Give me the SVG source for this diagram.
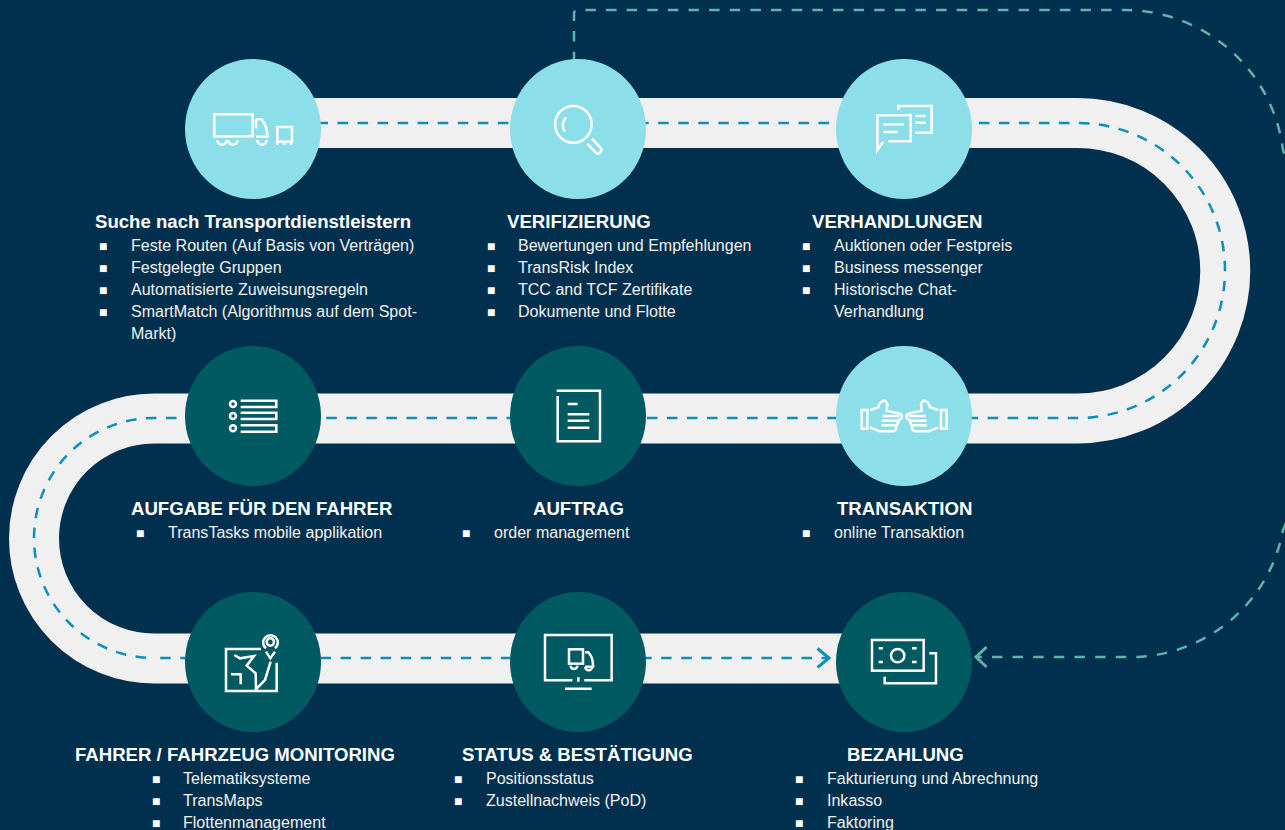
<svg xmlns="http://www.w3.org/2000/svg" width="1285" height="830" viewBox="0 0 1285 830">
<style>
text{font-family:"Liberation Sans",Arial,sans-serif;fill:#f2f2f2}
.h{font-size:18.6px;font-weight:700;fill:#fff}
.b{font-size:16.05px}
.s{font-size:14px;fill:#fff}
.ic{fill:none;stroke:#fff;stroke-width:7.5}
.l{fill:#8cdfe9}
.d{fill:#015a62}
.bl{stroke:#0a8fbd;stroke-width:2.500;stroke-dasharray:10.500 9.540}
</style>
<defs>
<marker id="ab" markerUnits="userSpaceOnUse" markerWidth="30" markerHeight="30" refX="20" refY="15" orient="auto" overflow="visible"><path d="M8.500 5.500L20 15L8.500 24.500" fill="none" stroke="#0a8fbd" stroke-width="3"/></marker>
<marker id="ag" markerUnits="userSpaceOnUse" markerWidth="30" markerHeight="30" refX="20" refY="15" orient="auto" overflow="visible"><path d="M9.500 5L20 15L9.500 25" fill="none" stroke="#5fb3aa" stroke-width="3"/></marker>
</defs>
<rect width="1285" height="830" fill="#01304e"/>
<g id="connectors" fill="none">
<path d="M253 123H1077.500A147.500 147.500 0 0 1 1077.500 418.500H154A120 120 0 0 0 154 658.500H860" stroke="#f0f0f0" stroke-width="50"/>
<path class="bl" d="M253 123H1077.500A147.500 147.500 0 0 1 1077.500 418H154A120 120 0 0 0 154 658" stroke-dashoffset="15.660"/>
<path class="bl" d="M154 658H829" stroke-dashoffset="13.840" marker-end="url(#ab)"/>
<path d="M574 62.200V14Q574 10 578 10H1125A160 160 0 0 1 1283 150L1317 250V450L1283 530A155 155 0 0 1 1128 657H976" stroke="#5fb3aa" stroke-width="2.500" stroke-dasharray="10.500 10.130" marker-end="url(#ag)"/>
</g>
<g id="node-suche"><ellipse class="l" cx="253" cy="129" rx="68" ry="70"/>
<g class="ic" transform="translate(180 60) scale(.3333)"><rect x="103" y="163" width="115" height="66"/><path d="M112 240A14 14 0 0 0 140 240M145 240A14 14 0 0 0 173 240M228 178H245C255 190 262 205 262 230H228M228 178V205M232 240A14 14 0 0 0 260 240"/><rect x="292" y="201" width="44" height="44"/><path d="M292 244V255M313 244V255M334 244V255"/></g>
<text class="h" x="95" y="228">Suche nach Transportdienstleistern</text>
<text class="s" x="99" y="251">■</text><text class="b" x="131" y="251">Feste Routen (Auf Basis von Verträgen)</text>
<text class="s" x="99" y="273">■</text><text class="b" x="131" y="273">Festgelegte Gruppen</text>
<text class="s" x="99" y="295">■</text><text class="b" x="131" y="295">Automatisierte Zuweisungsregeln</text>
<text class="s" x="99" y="317">■</text><text class="b" x="131" y="317">SmartMatch (Algorithmus auf dem Spot-</text>
<text class="b" x="131" y="339">Markt)</text></g>
<g id="node-verifizierung"><ellipse class="l" cx="578" cy="129" rx="68" ry="70"/>
<g class="ic" transform="translate(500 0) scale(.3333)"><circle cx="220" cy="373" r="55"/><path d="M198 352C186 365 186 382 195 395M262 432L288 458A10 10 0 0 0 302 444L276 416"/></g>
<text class="h" x="507" y="228">VERIFIZIERUNG</text>
<text class="s" x="487" y="251">■</text><text class="b" x="518" y="251">Bewertungen und Empfehlungen</text>
<text class="s" x="487" y="273">■</text><text class="b" x="518" y="273">TransRisk Index</text>
<text class="s" x="487" y="295">■</text><text class="b" x="518" y="295">TCC and TCF Zertifikate</text>
<text class="s" x="487" y="317">■</text><text class="b" x="518" y="317">Dokumente und Flotte</text></g>
<g id="node-verhandlungen"><ellipse class="l" cx="904" cy="129" rx="68" ry="70"/>
<g class="ic" transform="translate(830 60) scale(.3333)"><path d="M205 150V138H305V218H256M256 168H287M256 188H287M175 244H242V166H142V270L160 245M160 193H222M160 216H203"/></g>
<text class="h" x="812" y="228">VERHANDLUNGEN</text>
<text class="s" x="802" y="251">■</text><text class="b" x="834" y="251">Auktionen oder Festpreis</text>
<text class="s" x="802" y="273">■</text><text class="b" x="834" y="273">Business messenger</text>
<text class="s" x="802" y="295">■</text><text class="b" x="834" y="295">Historische Chat-</text>
<text class="b" x="834" y="317">Verhandlung</text></g>
<g id="node-transaktion"><ellipse class="l" cx="904" cy="416" rx="68" ry="70"/>
<g class="ic" transform="translate(830 350) scale(.3333)">
<path d="M95 180H112V236H95ZM120 180L145 172C150 150 170 145 172 165L170 182L208 190Q220 195 214 205L205 212Q205 222 198 226Q202 240 190 244H150L120 232M158 198H208M155 212H205M155 226H198"/>
<path transform="translate(445 0) scale(-1 1)" d="M95 180H112V236H95ZM120 180L145 172C150 150 170 145 172 165L170 182L208 190Q220 195 214 205L205 212Q205 222 198 226Q202 240 190 244H150L120 232M158 198H208M155 212H205M155 226H198"/></g>
<text class="h" x="837" y="515">TRANSAKTION</text>
<text class="s" x="802" y="538">■</text><text class="b" x="834" y="538">online Transaktion</text></g>
<g id="node-auftrag"><ellipse class="d" cx="578" cy="416" rx="68" ry="70"/>
<g class="ic" transform="translate(505 350) scale(.3333)"><path d="M155 122H285V274H158V138M188 162H218M188 193H253M188 212H253M188 233H253"/></g>
<text class="h" x="533" y="515">AUFTRAG</text>
<text class="s" x="462" y="538">■</text><text class="b" x="494" y="538">order management</text></g>
<g id="node-aufgabe"><ellipse class="d" cx="253" cy="416" rx="68" ry="70"/>
<g class="ic" transform="translate(180 350) scale(.3333)"><circle cx="159" cy="162" r="9"/><circle cx="159" cy="198" r="9"/><circle cx="159" cy="235" r="9"/><path d="M182 152H289V171H182M182 188H289V207H182M182 226H289V245H182"/></g>
<text class="h" x="131" y="515">AUFGABE FÜR DEN FAHRER</text>
<text class="s" x="136" y="538">■</text><text class="b" x="168" y="538">TransTasks mobile applikation</text></g>
<g id="node-monitoring"><ellipse class="d" cx="253" cy="662" rx="68" ry="70"/>
<g class="ic" transform="translate(180 595) scale(.3333)"><path d="M243 162H138V288H290V203M163 180L180 190L222 183L200 212L227 235L228 283L255 255L272 200M153 238H182V268"/><circle cx="271" cy="141" r="11"/><path d="M258 160A22 22 0 1 1 285 160M258 170L271 190L285 170"/></g>
<text class="h" x="75" y="761">FAHRER / FAHRZEUG MONITORING</text>
<text class="s" x="152" y="784">■</text><text class="b" x="183" y="784">Telematiksysteme</text>
<text class="s" x="152" y="806">■</text><text class="b" x="183" y="806">TransMaps</text>
<text class="s" x="152" y="828">■</text><text class="b" x="183" y="828">Flottenmanagement</text></g>
<g id="node-status"><ellipse class="d" cx="578" cy="662" rx="68" ry="70"/>
<g class="ic" transform="translate(505 595) scale(.3333)"><path d="M202 256H120V120H320V256H238M220 247V260M180 281H260"/><rect x="192" y="163" width="42" height="43"/><path d="M240 172H250C258 180 264 190 264 210V215H240M197 212A10 10 0 0 0 217 212M241 216A10 10 0 0 0 261 216"/></g>
<text class="h" x="462" y="761">STATUS &amp; BESTÄTIGUNG</text>
<text class="s" x="454" y="784">■</text><text class="b" x="486" y="784">Positionsstatus</text>
<text class="s" x="454" y="806">■</text><text class="b" x="486" y="806">Zustellnachweis (PoD)</text></g>
<g id="node-bezahlung"><ellipse class="d" cx="904" cy="662" rx="68" ry="70"/>
<g class="ic" transform="translate(810 595) scale(.3333)"><rect x="186" y="135" width="155" height="92"/><circle cx="263" cy="182" r="20"/><path d="M206 160H219M206 201H219M306 160H320M306 201H320M358 175H378V265H224V245"/></g>
<text class="h" x="847" y="761">BEZAHLUNG</text>
<text class="s" x="795" y="784">■</text><text class="b" x="827" y="784">Fakturierung und Abrechnung</text>
<text class="s" x="795" y="806">■</text><text class="b" x="827" y="806">Inkasso</text>
<text class="s" x="795" y="828">■</text><text class="b" x="827" y="828">Faktoring</text></g>
</svg>
